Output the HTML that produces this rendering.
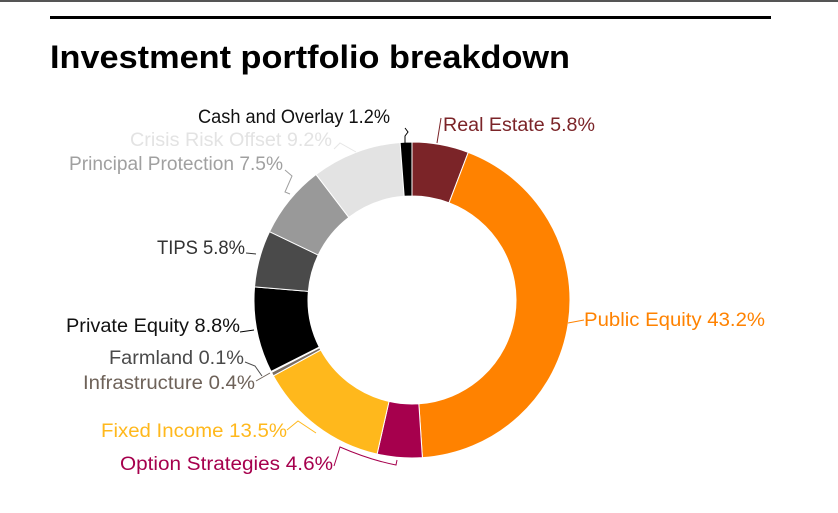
<!DOCTYPE html>
<html><head><meta charset="utf-8"><style>
html,body{margin:0;padding:0;background:#fff;width:838px;height:513px;overflow:hidden}
svg{display:block}
text{font-family:"Liberation Sans",sans-serif;font-size:19px}
</style></head><body>
<svg id="s" width="838" height="513" xmlns="http://www.w3.org/2000/svg">
<rect x="0" y="0" width="838" height="2" fill="#555"/>
<rect x="50" y="16" width="721" height="3" fill="#000"/>
<text x="50" y="68" style="font-size:32px;font-weight:bold" textLength="520" lengthAdjust="spacingAndGlyphs">Investment portfolio breakdown</text>
<g id="d"></g>
<g fill="none" stroke-width="1">
<polyline points="405,128 408,132 405,136 405,143" stroke="#000"/>
<polyline points="441,118 437,143" stroke="#7b2428"/>
<polyline points="334,149 340,143 356,152" stroke="#e6e6e6"/>
<polyline points="285,170 292,176 285,192 290,194" stroke="#a0a0a0"/>
<polyline points="246,253 256,254" stroke="#333"/>
<polyline points="568,323 584,320" stroke="#ff8200"/>
<polyline points="240,332 254,330" stroke="#000"/>
<polyline points="245,362 255,366 262,376" stroke="#4a4a4a"/>
<polyline points="256,381 270,373" stroke="#6e6259"/>
<polyline points="287,430 298,421 316,433" stroke="#ffb81c"/>
<path d="M334,466 L340,447 Q370,460 396,465 L397,460" stroke="#a6004d"/>
</g>
<text x="198" y="123" textLength="192" lengthAdjust="spacingAndGlyphs" fill="#111">Cash and Overlay 1.2%</text>
<text x="443" y="131" textLength="152" lengthAdjust="spacingAndGlyphs" fill="#7b2428">Real Estate 5.8%</text>
<text x="130" y="146" textLength="202" lengthAdjust="spacingAndGlyphs" fill="#e3e3e3">Crisis Risk Offset 9.2%</text>
<text x="69" y="170" textLength="214" lengthAdjust="spacingAndGlyphs" fill="#a0a0a0">Principal Protection 7.5%</text>
<text x="157" y="254" textLength="88" lengthAdjust="spacingAndGlyphs" fill="#333">TIPS 5.8%</text>
<text x="584" y="326" textLength="181" lengthAdjust="spacingAndGlyphs" fill="#ff8200">Public Equity 43.2%</text>
<text x="66" y="332" textLength="174" lengthAdjust="spacingAndGlyphs" fill="#111">Private Equity 8.8%</text>
<text x="109" y="364" textLength="135" lengthAdjust="spacingAndGlyphs" fill="#4a4a4a">Farmland 0.1%</text>
<text x="83" y="389" textLength="172" lengthAdjust="spacingAndGlyphs" fill="#6e6259">Infrastructure 0.4%</text>
<text x="101" y="437" textLength="186" lengthAdjust="spacingAndGlyphs" fill="#ffb81c">Fixed Income 13.5%</text>
<text x="120" y="470" textLength="213" lengthAdjust="spacingAndGlyphs" fill="#a6004d">Option Strategies 4.6%</text>
</svg>
<script>
var data=[[5.8,"#7b2428"],[43.2,"#ff8200"],[4.6,"#a6004d"],[13.5,"#ffb81c"],[0.4,"#7a6e64"],[0.1,"#4a4a4a"],[8.8,"#000"],[5.8,"#4a4a4a"],[7.5,"#999"],[9.2,"#e3e3e3"],[1.2,"#000"]];
var cx=412,cy=300,R=158,r=104,tot=100.1,a=0,h="";
function p(ang,rad){return [cx+rad*Math.sin(ang),cy-rad*Math.cos(ang)];}
data.forEach(function(d){var a0=a/tot*2*Math.PI;a+=d[0];var a1=a/tot*2*Math.PI;var l=(a1-a0)>Math.PI?1:0;
var p1=p(a0,R),p2=p(a1,R),p3=p(a1,r),p4=p(a0,r);
h+='<path d="M'+p1+' A'+R+','+R+' 0 '+l+' 1 '+p2+' L'+p3+' A'+r+','+r+' 0 '+l+' 0 '+p4+' Z" fill="'+d[1]+'" stroke="#fff" stroke-width="1"/>';});
document.getElementById("d").innerHTML=h;
</script>
</body></html>
